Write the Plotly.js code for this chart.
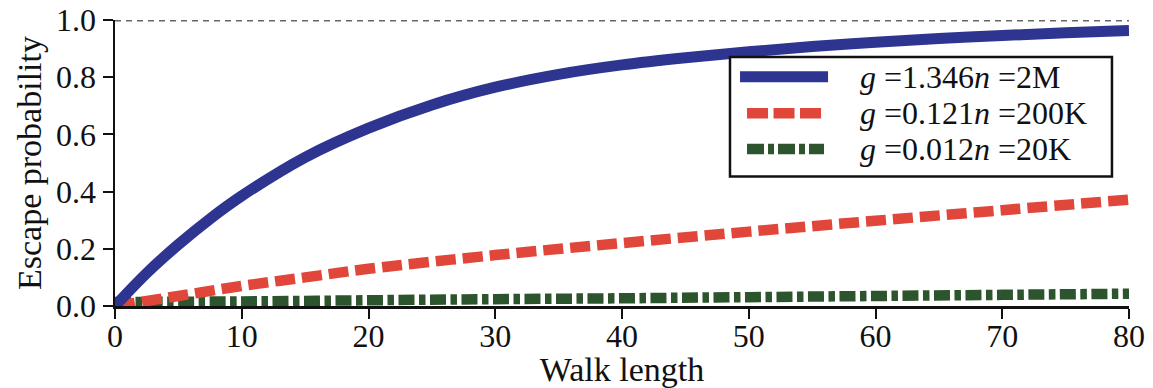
<!DOCTYPE html>
<html><head><meta charset="utf-8">
<script src="https://cdn.plot.ly/plotly-3.0.1.min.js"></script>
<style>html,body{margin:0;padding:0;background:#fff}#c{width:1153px;height:388px}</style>
</head><body><div id="c"></div>
<script>
const walkLength = [0,2.5,5,7.5,10,15,20,25,30,35,40,45,50,55,60,65,70,75,80];
const probG1346 = [0.0,0.115,0.215,0.305,0.385,0.52,0.622,0.703,0.765,0.81,0.843,0.868,0.889,0.907,0.922,0.935,0.946,0.955,0.963];
const walkLengthRed = [0,5,10,15,20,30,40,50,60,70,80];
const probG0121 = [0.0,0.035,0.07,0.10,0.13,0.178,0.22,0.26,0.298,0.335,0.372];
const walkLengthGreen = [0,10,20,30,40,50,60,70,80];
const probG0012 = [0.014,0.016,0.02,0.024,0.027,0.031,0.035,0.039,0.043];
const seriesNames = ['<i>g</i> =1.346<i>n</i> =2M','<i>g</i> =0.121<i>n</i> =200K','<i>g</i> =0.012<i>n</i> =20K'];
const refLevel = 1.0;
const xTicks = [0,10,20,30,40,50,60,70,80];
const yTicks = [0,0.2,0.4,0.6,0.8,1.0];

const colors = ['#2d3591','#e0473a','#2d552d'];
const dashes = ['solid','20px,7px','16px,4.5px,6.5px,4.5px'];
const legendDashes = ['solid','21px,5.5px','17px,4px,6px,4px'];
const serif = 'Liberation Serif, Times New Roman, serif';

const traces = [
  {x:[0,80], y:[refLevel,refLevel], mode:'lines', line:{color:'#666',width:3,dash:'6px,5px'}, showlegend:false, hoverinfo:'skip'},
  {x:walkLengthGreen, y:probG0012, mode:'lines', line:{color:colors[2],width:10.5,dash:dashes[2],shape:'spline'}, name:seriesNames[2], showlegend:false},
  {x:walkLengthRed, y:probG0121, mode:'lines', line:{color:colors[1],width:10.5,dash:dashes[1],shape:'spline'}, name:seriesNames[1], showlegend:false},
  {x:walkLength, y:probG1346, mode:'lines', line:{color:colors[0],width:11,shape:'spline',smoothing:1}, name:seriesNames[0], showlegend:false}
];

// manual legend (box, samples, labels)
const shapes=[{type:'rect',xref:'paper',yref:'paper',x0:0.6065,x1:0.9832,y0:0.4528,y1:0.8706,line:{color:'#111',width:2.5},fillcolor:'#fff',layer:'above'}];
const rowsY=[0.802,0.674,0.549];
const sampleX=[[0.6164,0.7032],[0.6233,0.6963],[0.6233,0.6992]];
const annotations=[];
rowsY.forEach((yy,i)=>{
  shapes.push({type:'line',xref:'paper',yref:'paper',x0:sampleX[i][0],x1:sampleX[i][1],y0:yy,y1:yy,line:{color:colors[i],width:i===0?11:10.5,dash:legendDashes[i]},layer:'above'});
  annotations.push({xref:'paper',yref:'paper',x:0.7327,y:yy,xanchor:'left',yanchor:'middle',showarrow:false,text:seriesNames[i],font:{family:serif,size:32,color:'#111'}});
});

const layout = {
  width:1153, height:388,
  margin:{l:115,r:24,t:20,b:82},
  paper_bgcolor:'#fff', plot_bgcolor:'#fff',
  showlegend:false,
  xaxis:{range:[0,80], tickvals:xTicks, ticktext:xTicks.map(String), showgrid:false, zeroline:false,
    showline:true, linecolor:'#111', linewidth:2.5, ticks:'outside', ticklen:10, tickwidth:2, tickcolor:'#111',
    ticklabelstandoff:-10,
    tickfont:{family:serif,size:32,color:'#111'},
    title:{text:'Walk length', font:{family:serif,size:34,color:'#111'}, standoff:8}},
  yaxis:{range:[0,1.0], tickvals:yTicks, ticktext:yTicks.map(v=>v.toFixed(1)), showgrid:false, zeroline:false,
    showline:true, linecolor:'#111', linewidth:2.5, ticks:'outside', ticklen:10, tickwidth:2, tickcolor:'#111',
    tickfont:{family:serif,size:32,color:'#111'},
    title:{text:'Escape probability', font:{family:serif,size:34,color:'#111'}, standoff:4}},
  shapes:shapes, annotations:annotations
};
Plotly.newPlot('c', traces, layout, {displayModeBar:false, staticPlot:true});
</script></body></html>
